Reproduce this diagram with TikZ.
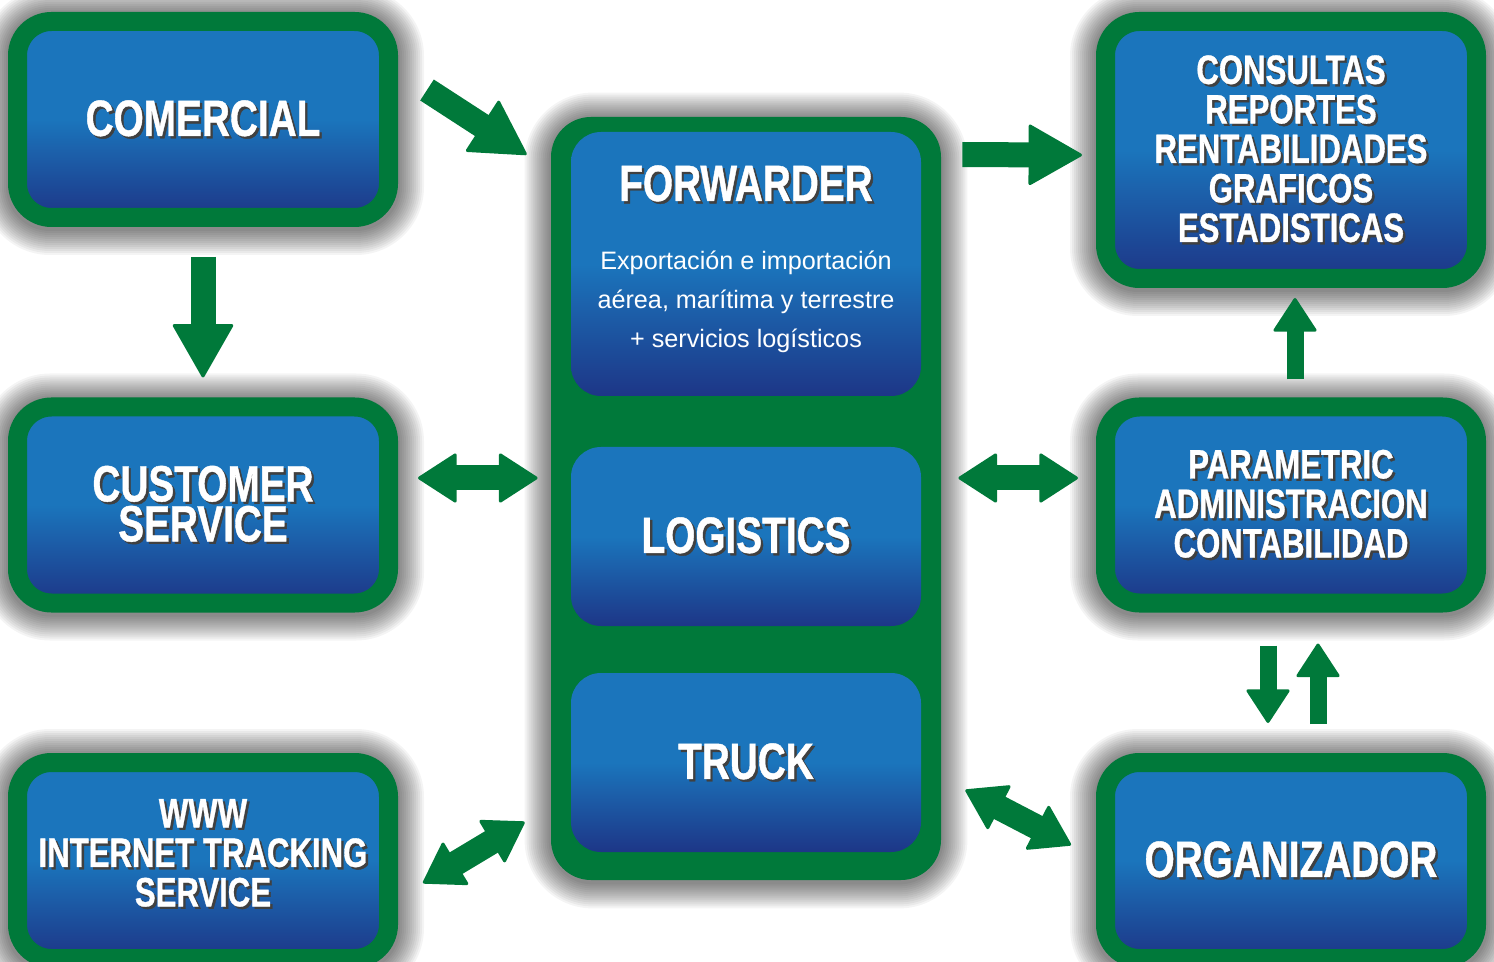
\documentclass[tikz,border=0pt]{standalone}
\usepackage{fontspec}
\newfontfamily\condfont[FakeStretch=0.76, FakeBold=0.8]{Liberation Sans}
\newfontfamily\plainfont{Liberation Sans}
\usepackage{xcolor}
\usetikzlibrary{positioning,calc,arrows.meta,backgrounds}

\definecolor{boxgreen}{RGB}{0,121,58}
\definecolor{bluetop}{RGB}{27,117,188}
\definecolor{bluebot}{RGB}{29,54,135}

% white title text with a small dark drop shadow
\newcommand\tsh[1]{\rlap{\kern1.2pt\raisebox{-1.2pt}{\textcolor{black!75}{#1}}}#1}
% soft grey halo round a box, drawn as stacked transparent rectangles
\newcommand\halo[1]{%
  \foreach \k [evaluate=\k as \rr using 21+\k] in {1,...,13}
    \fill[black, fill opacity=0.042, rounded corners=\rr pt]
      ($(#1.north west)+(-2*\k,-2*\k+2)$) rectangle ($(#1.south east)+(2*\k,2*\k+2)$);}

\tikzset{
  bigfont/.style={font=\condfont\bfseries\fontsize{25.5}{20}\selectfont},
  midfont/.style={font=\condfont\bfseries\fontsize{20.5}{19.75}\selectfont},
  box/.style={draw=boxgreen, line width=9.5pt, rounded corners=17pt,
    top color=bluetop, bottom color=bluebot, middle color=bluetop,
    minimum width=185.5pt, minimum height=98pt, inner sep=0pt,
    text=white, align=center},
  column/.style={fill=boxgreen, rounded corners=20pt, minimum width=195pt,
    minimum height=381.5pt},
  inbox/.style={top color=bluetop, bottom color=bluebot, middle color=bluetop,
    rounded corners=15pt, minimum width=175pt, minimum height=89.5pt,
    inner sep=0pt, text=white, align=center},
  subtext/.style={text=white, align=center,
    font=\plainfont\fontsize{12.6}{19.5}\selectfont},
  bigarrow/.style={draw=boxgreen, line width=12.5pt,
    -{Triangle[length=27.5pt, width=31pt, line width=1.5pt, round]}},
  smallarrow/.style={draw=boxgreen, line width=8.5pt,
    -{Triangle[length=17.5pt, width=22.5pt, line width=1.5pt, round]}},
  dblarrow/.style={draw=boxgreen, line width=12.5pt,
    {Triangle[length=20pt, width=25.5pt, line width=1.5pt, round]}-{Triangle[length=20pt, width=25.5pt, line width=1.5pt, round]}}
}

\begin{document}
\begin{tikzpicture}[x=0.5pt, y=-0.5pt]
    \useasboundingbox (0,0) rectangle (1494,962);

    % left column
    \node[box, bigfont] (comercial) at (203,119.5) {\tsh{COMERCIAL}};
    \node[box, bigfont] (customer) at (203,505) {\tsh{CUSTOMER}\\\tsh{SERVICE}};
    \node[box, midfont] (www) at (203,860.5) {\tsh{WWW}\\\tsh{INTERNET TRACKING}\\\tsh{SERVICE}\\[-12pt]};

    % centre column
    \node[column] (column) at (746,498.5) {};
    \node[inbox, minimum height=132pt] (forwarder) at (746,264) {};
    \node[bigfont, text=white] (fwtitle) at ($(forwarder.north)+(0,53)$) {\tsh{FORWARDER}};
    \node[subtext] (fwtext) at ($(forwarder.center)+(0,38)$)
        {Exportación e importación\\aérea, marítima y terrestre\\+ servicios logísticos};
    \node[inbox, bigfont] (logistics) at (746,536.5) {\tsh{LOGISTICS}};
    \node[inbox, bigfont] (truck) at (746,762.5) {\tsh{TRUCK}};

    % right column
    \node[box, midfont, minimum height=128.5pt] (consultas) at (1291,150)
        {\tsh{CONSULTAS}\\\tsh{REPORTES}\\\tsh{RENTABILIDADES}\\\tsh{GRAFICOS}\\\tsh{ESTADISTICAS}};
    \node[box, midfont] (parametric) at (1291,505)
        {\tsh{PARAMETRIC}\\\tsh{ADMINISTRACION}\\\tsh{CONTABILIDAD}};
    \node[box, bigfont] (organizador) at (1291,860.5) {\tsh{ORGANIZADOR}};

    % shadows behind the boxes
    \begin{scope}[on background layer]
        \fill[white] (0,0) rectangle (1494,962);
        \halo{comercial} \halo{customer} \halo{www}
        \halo{column}
        \halo{consultas} \halo{parametric} \halo{organizador}
    \end{scope}

    % arrows
    \draw[bigarrow] ($(comercial.east)+(29,-29.5)$) -- ($(column.north west)+(-24,38)$);
    \draw[bigarrow, shorten <=15pt, shorten >=10pt] (comercial.south) -- (customer.north);
    \draw[bigarrow] ($(column.north east)+(21,38)$) -- ($(consultas.west)+(-14,5)$);
    \draw[smallarrow] ($(parametric.north)+(4,-18)$) -- ($(consultas.south)+(4,10)$);
    \draw[smallarrow] ($(parametric.south)+(-23,33)$) -- ($(organizador.north)+(-23,-30)$);
    \draw[smallarrow] ($(organizador.north)+(27,-29)$) -- ($(parametric.south)+(27,31)$);
    \draw[dblarrow] ($(customer.east)+(20,-27)$) -- ($(column.west)+(-13,-20.5)$);
    \draw[dblarrow] ($(column.east)+(17,-20.5)$) -- ($(parametric.west)+(-18,-27)$);
    \draw[dblarrow] ($(truck.east)+(44,27.5)$) -- ($(organizador.west)+(-25,-15.5)$);
    \draw[dblarrow] ($(www.east)+(25,22.5)$) -- ($(truck.west)+(-46,59.5)$);
\end{tikzpicture}
\end{document}
